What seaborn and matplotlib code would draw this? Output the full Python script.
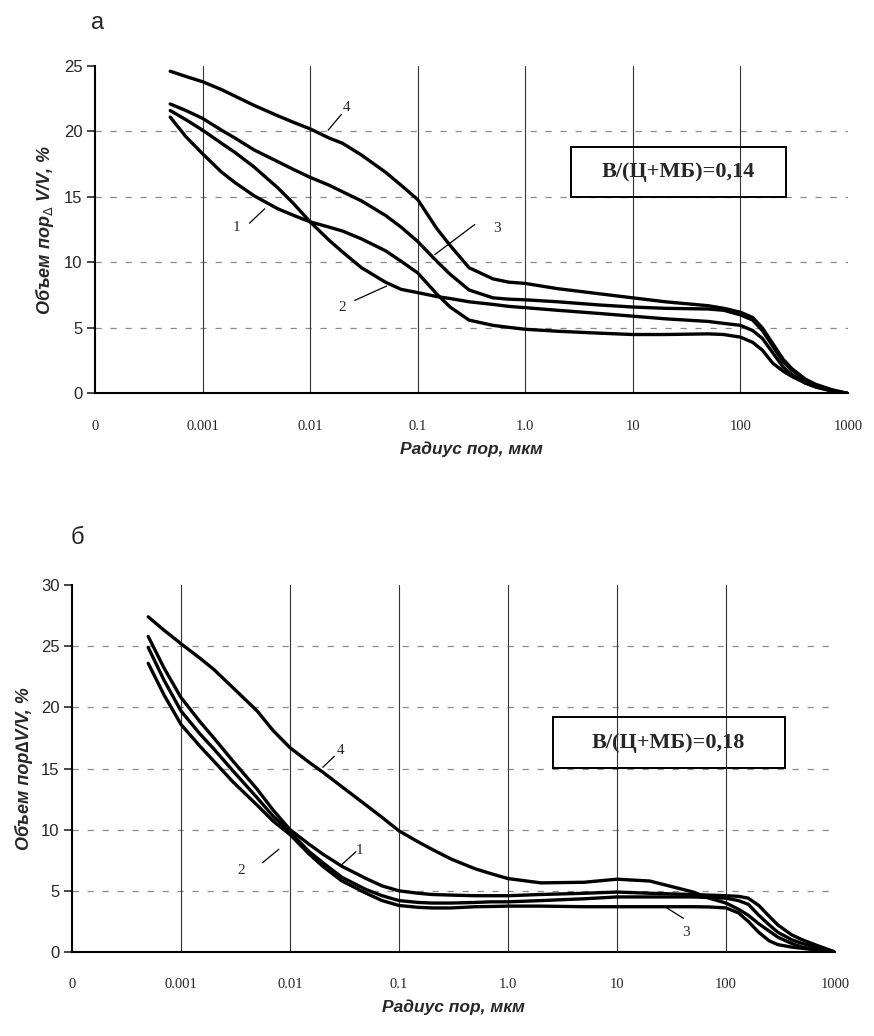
"""Pore volume vs pore radius, two panels (а, б)."""
import matplotlib
matplotlib.use('Agg')
import matplotlib.pyplot as plt
from matplotlib.patches import Rectangle
import seaborn as sns

# pore radius grid, мкм (same grid for every curve)
radius = [0.0005, 0.0007, 0.001, 0.0015, 0.002, 0.003, 0.005, 0.007,
          0.01, 0.015, 0.02, 0.03, 0.05, 0.07, 0.1, 0.15, 0.2, 0.3, 0.5,
          0.7, 1, 2, 5, 10, 20, 50, 70, 100, 130, 160, 200, 250, 300, 400,
          500, 700, 1000]

# panel а, В/(Ц+МБ)=0,14
a_curve1 = [21.1, 19.6, 18.3, 16.9, 16.1, 15.1, 14.1, 13.6, 13.1, 12.7,
            12.4, 11.8, 10.9, 10.1, 9.2, 7.6, 6.6, 5.6, 5.2, 5.05, 4.9,
            4.75, 4.6, 4.5, 4.5, 4.55, 4.5, 4.3, 3.9, 3.3, 2.3, 1.7, 1.3,
            0.8, 0.5, 0.2, 0]
a_curve2 = [21.6, 20.9, 20.1, 19.1, 18.4, 17.3, 15.7, 14.5, 13.1, 11.7,
            10.8, 9.6, 8.5, 7.95, 7.7, 7.4, 7.25, 7.0, 6.8, 6.65, 6.55,
            6.35, 6.1, 5.9, 5.7, 5.5, 5.35, 5.2, 4.8, 4.2, 3.1, 2.0, 1.45,
            0.8, 0.5, 0.2, 0]
a_curve3 = [22.1, 21.6, 21.0, 20.1, 19.5, 18.6, 17.7, 17.1, 16.5, 15.9,
            15.4, 14.7, 13.6, 12.7, 11.6, 10.1, 9.1, 7.9, 7.3, 7.2, 7.15,
            7.0, 6.75, 6.6, 6.5, 6.45, 6.35, 6.0, 5.6, 4.8, 3.6, 2.4, 1.8,
            1.0, 0.6, 0.25, 0]
a_curve4 = [24.6, 24.2, 23.8, 23.2, 22.7, 22.0, 21.2, 20.7, 20.2, 19.5,
            19.1, 18.2, 16.9, 15.9, 14.8, 12.6, 11.3, 9.6, 8.75, 8.5, 8.4,
            8.0, 7.6, 7.3, 7.0, 6.7, 6.5, 6.2, 5.8, 5.0, 3.8, 2.6, 1.9,
            1.1, 0.7, 0.3, 0]

# panel б, В/(Ц+МБ)=0,18
b_curve1 = [25.8, 23.2, 20.8, 18.8, 17.5, 15.6, 13.3, 11.6, 10.0, 8.8,
            8.0, 7.0, 6.0, 5.4, 5.0, 4.8, 4.7, 4.65, 4.6, 4.6, 4.6, 4.7,
            4.8, 4.9, 4.8, 4.7, 4.65, 4.6, 4.55, 4.4, 3.8, 2.9, 2.2, 1.4,
            1.0, 0.5, 0]
b_curve2 = [24.9, 22.2, 19.7, 17.8, 16.6, 14.8, 12.6, 11.1, 9.8, 8.2,
            7.3, 6.1, 5.1, 4.6, 4.2, 4.05, 4.0, 4.0, 4.05, 4.1, 4.1, 4.2,
            4.35, 4.5, 4.5, 4.5, 4.45, 4.4, 4.2, 3.9, 3.0, 2.2, 1.6, 1.0,
            0.7, 0.35, 0]
b_curve3 = [23.6, 21.0, 18.6, 16.8, 15.6, 13.9, 12.0, 10.7, 9.6, 8.0,
            7.0, 5.8, 4.8, 4.2, 3.8, 3.65, 3.6, 3.6, 3.7, 3.72, 3.75, 3.75,
            3.7, 3.7, 3.7, 3.7, 3.68, 3.6, 3.2, 2.5, 1.6, 0.9, 0.6, 0.4,
            0.3, 0.15, 0]
b_curve4 = [27.4, 26.3, 25.2, 24.0, 23.1, 21.6, 19.7, 18.1, 16.7, 15.5,
            14.7, 13.5, 12.0, 11.0, 9.9, 9.0, 8.4, 7.6, 6.8, 6.4, 6.0,
            5.65, 5.7, 5.95, 5.8, 4.9, 4.4, 4.0, 3.5, 3.0, 2.3, 1.7, 1.2,
            0.7, 0.4, 0.15, 0]

xtick_pos = [1e-4, 1e-3, 1e-2, 1e-1, 1, 10, 100, 1000]
xtick_labels = ['0', '0.001', '0.01', '0.1', '1.0', '10', '100', '1000']

# curve number: (text x, text y, leader from, leader to)
a_notes = {'1': ((0.00205, 12.7), (0.00273, 13.0), (0.00378, 14.1)),
           '2': ((0.0200, 6.6), (0.0259, 7.1), (0.0513, 8.2)),
           '3': ((0.540, 12.6), (0.339, 12.9), (0.144, 10.6)),
           '4': ((0.0220, 21.8), (0.0195, 21.3), (0.0147, 20.1))}
b_notes = {'1': ((0.0430, 8.3), (0.0403, 8.2), (0.0295, 7.1)),
           '2': ((0.0036, 6.7), (0.0056, 7.3), (0.0079, 8.4)),
           '3': ((43.0, 1.6), (40.7, 2.75), (27.5, 3.7)),
           '4': ((0.0288, 16.5), (0.0255, 16.0), (0.0200, 15.1))}

sns.set_style('white')
plt.rcParams['font.family'] = ['Liberation Sans', 'DejaVu Sans']

fig = plt.figure(figsize=(8.74, 10.36), dpi=100)
ax_a = fig.add_axes([0.1087, 0.6202, 0.8616, 0.3161])
ax_b = fig.add_axes([0.0824, 0.0811, 0.8730, 0.3542])


def draw_panel(ax, curves, ymax, notes, ylabel, ratio, box, letter, letter_xy):
    ax.set_xscale('log')
    ax.set_xlim(1e-4, 1e3)
    ax.set_ylim(0, ymax)

    for y in range(5, ymax, 5):
        ax.axhline(y, color='#8a8a8a', lw=0.9, ls=(0, (5, 7)), zorder=1)
    for x in xtick_pos[1:-1]:
        ax.axvline(x, color='#333333', lw=0.8, zorder=1)

    for vals in curves:
        sns.lineplot(x=radius, y=vals, ax=ax, color='black', lw=2.4,
                     zorder=3, legend=False, solid_joinstyle='round',
                     solid_capstyle='round')

    for num, (txt, p0, p1) in notes.items():
        ax.text(txt[0], txt[1], num, family='Liberation Serif', fontsize=11,
                ha='center', va='center')
        ax.plot([p0[0], p1[0]], [p0[1], p1[1]], color='black', lw=0.9)

    ax.add_patch(Rectangle(box[:2], box[2], box[3], transform=ax.transAxes,
                           fill=False, edgecolor='black', lw=1.4, zorder=4))
    ax.text(box[0] + box[2] / 2, box[1] + box[3] / 2, ratio,
            transform=ax.transAxes, ha='center', va='center',
            family='Liberation Serif', fontweight='bold', fontsize=16)

    ax.set_xticks(xtick_pos)
    ax.set_xticklabels(xtick_labels, family='Liberation Serif', fontsize=10.5)
    ax.xaxis.set_minor_locator(plt.NullLocator())
    ax.tick_params(axis='x', length=0, pad=19)
    ax.set_yticks(range(0, ymax + 1, 5))
    ax.tick_params(axis='y', length=6, width=1.2, labelsize=12, pad=3,
                   left=True, direction='out')

    sns.despine(ax=ax)
    for side in ('left', 'bottom'):
        ax.spines[side].set_color('black')
        ax.spines[side].set_linewidth(1.5)

    ax.set_xlabel('Радиус пор, мкм', fontsize=12.5, fontweight='bold',
                  fontstyle='italic', labelpad=6)
    ax.set_ylabel(ylabel, fontsize=13, fontweight='bold', fontstyle='italic',
                  labelpad=6)
    fig.text(letter_xy[0], letter_xy[1], letter, fontsize=17,
             ha='center', va='center')


draw_panel(ax_a, [a_curve1, a_curve2, a_curve3, a_curve4], 25, a_notes,
           'Объем пор$_\\Delta$ V/V, %', 'В/(Ц+МБ)=0,14',
           (0.632, 0.600, 0.2855, 0.153), 'а', (98 / 874, 1 - 23 / 1036))
draw_panel(ax_b, [b_curve1, b_curve2, b_curve3, b_curve4], 30, b_notes,
           'Объем пор∆V/V, %', 'В/(Ц+МБ)=0,18',
           (0.630, 0.501, 0.304, 0.138), 'б', (77 / 874, 1 - 538 / 1036))

fig.savefig('out.png', dpi=100, facecolor='white')
